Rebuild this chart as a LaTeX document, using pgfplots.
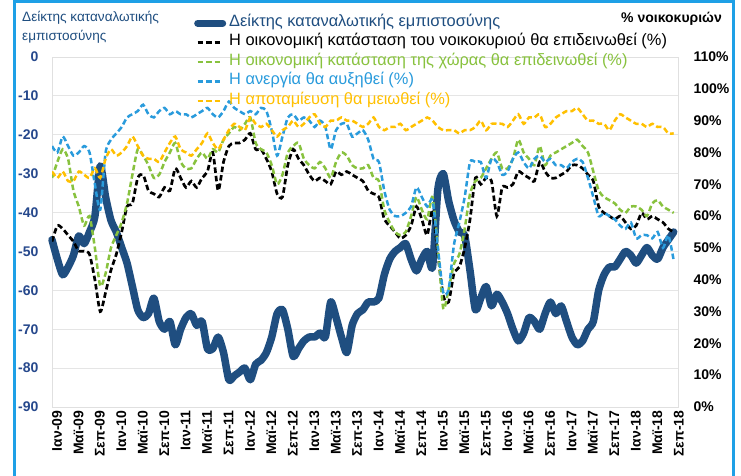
\documentclass[border=0pt]{standalone}
\usepackage{pgfplots}
\pgfplotsset{compat=1.18}
\usepackage{pgfplotstable}
\usepackage{fontspec}
\setmainfont{Liberation Sans}
\definecolor{cci}{RGB}{31,78,128}
\definecolor{ticknavy}{RGB}{38,72,140}
\definecolor{cgreen}{RGB}{136,194,62}
\definecolor{cblue}{RGB}{41,155,220}
\definecolor{corange}{RGB}{255,192,0}
\definecolor{framecol}{RGB}{30,160,230}
\pgfplotstableread{
i cci hh cty une sav
0 -47 52 72 82 74
1 -52 57 77 80 72
2 -56 56 81 85 74
3 -54 54 78 82 71
4 -51 52 68 79 71
5 -46 49 63 80 74
6 -48 49 57 82 73
7 -45 48 60 80 72
8 -41 40 50 70 75
9 -28 30 38 62 72
10 -36 36 42 80 78
11 -42 43 50 84 81
12 -45 48 54 86 79
13 -49 55 58 88 80
14 -53 63 64 91 82
15 -59 64 73 92 85
16 -65 72 81 93 82
17 -67 73 79 95 79
18 -66 68 76 92 78
19 -62 67 72 91 78
20 -68 66 73 93 77
21 -70 69 77 94 80
22 -68 68 80 92 83
23 -74 75 83 93 85
24 -70 72 77 92 81
25 -67 69 75 92 80
26 -66 71 75 91 79
27 -69 69 78 92 81
28 -68 72 80 93 83
29 -75 74 78 94 86
30 -75 80 81 92 83
31 -72 68 80 91 81
32 -76 77 84 93 84
33 -83 82 86 96 87
34 -82 83 88 94 89
35 -81 83 87 93 88
36 -80 84 89 92 87
37 -83 86 91 93 91
38 -79 81 83 92 89
39 -78 81 81 94 88
40 -76 78 80 93 89
41 -72 74 76 87 87
42 -66 67 70 79 85
43 -65 66 73 85 87
44 -70 76 80 91 88
45 -77 81 82 92 90
46 -75 78 83 90 88
47 -73 76 78 91 89
48 -72 73 76 90 91
49 -72 71 75 88 92
50 -71 72 77 90 89
51 -72 71 75 88 88
52 -63 70 72 81 90
53 -67 74 77 87 90
54 -72 73 80 89 91
55 -76 74 79 89 90
56 -69 73 76 85 90
57 -66 72 75 86 89
58 -65 71 75 87 88
59 -63 68 76 84 89
60 -63 67 72 78 91
61 -62 66 71 77 88
62 -56 59 62 68 87
63 -52 57 58 62 88
64 -50 55 55 60 88
65 -49 53 54 60 89
66 -48 54 55 61 87
67 -52 57 60 63 88
68 -55 63 66 69 89
69 -52 59 62 66 90
70 -50 54 59 63 91
71 -54 62 66 65 90
72 -34 48 50 50 88
73 -30 35 31 36 87
74 -37 33 37 37 87
75 -42 42 45 51 87
76 -45 44 48 58 86
77 -46 50 56 66 87
78 -55 59 67 77 87
79 -65 72 71 77 88
80 -62 70 72 77 90
81 -59 72 75 72 87
82 -64 71 78 78 89
83 -61 60 80 77 89
84 -63 69 75 73 89
85 -66 69 75 74 88
86 -70 70 78 78 90
87 -73 74 84 80 92
88 -71 73 80 77 89
89 -67 72 78 75 91
90 -68 71 76 78 91
91 -70 77 82 79 92
92 -66 74 76 77 88
93 -63 72 79 78 89
94 -66 72 80 76 91
95 -64 73 81 76 92
96 -68 74 82 75 93
97 -72 76 83 77 93
98 -74 76 84 78 94
99 -73 75 82 77 92
100 -70 73 80 72 90
101 -68 71 74 66 90
102 -60 63 68 60 89
103 -56 61 66 61 89
104 -54 60 65 60 87
105 -54 59 64 59 90
106 -52 60 62 57 92
107 -50 58 61 56 91
108 -51 56 63 58 90
109 -53 57 63 53 89
110 -51 61 62 54 89
111 -49 59 60 54 88
112 -51 60 64 53 89
113 -52 59 65 55 88
114 -49 58 63 50 88
115 -47 56 62 54 86
116 -45 55 61 46 86
}\datatable
\begin{document}
\begin{tikzpicture}[x=1pt,y=1pt]
\useasboundingbox (0,0) rectangle (741,476);
\fill[white] (0,0) rectangle (741,476);
\begin{axis}[
  at={(52pt,69pt)}, anchor=south west, scale only axis,
  width=626pt, height=350pt,
  xmin=0, xmax=116.8, ymin=-90, ymax=0,
  axis line style={draw=black!12},
  major tick length=0pt,
  ymajorgrids, grid style={draw=black!10, line width=0.8pt},
  ytick={-90,-80,-70,-60,-50,-40,-30,-20,-10,0},
  yticklabels={-90,-80,-70,-60,-50,-40,-30,-20,-10,0},
  yticklabel style={font=\bfseries\fontsize{14}{14}\selectfont, text=ticknavy, xshift=-10pt},
  xtick={0,4,...,116},
  xticklabels={Ιαν-09,Μαϊ-09,Σεπ-09,Ιαν-10,Μαϊ-10,Σεπ-10,Ιαν-11,Μαϊ-11,Σεπ-11,Ιαν-12,Μαϊ-12,Σεπ-12,Ιαν-13,Μαϊ-13,Σεπ-13,Ιαν-14,Μαϊ-14,Σεπ-14,Ιαν-15,Μαϊ-15,Σεπ-15,Ιαν-16,Μαϊ-16,Σεπ-16,Ιαν-17,Μαϊ-17,Σεπ-17,Ιαν-18,Μαϊ-18,Σεπ-18},
  xticklabel style={rotate=90, anchor=east, font=\bfseries\fontsize{14}{14}\selectfont, yshift=-5pt},
  clip=false,
]
\addplot[cci, line width=7.5pt, smooth, tension=0.4, line join=round, line cap=round] table[x=i, y=cci] {\datatable};
\end{axis}
\begin{axis}[
  at={(52pt,69pt)}, anchor=south west, scale only axis,
  width=626pt, height=350pt,
  xmin=0, xmax=116.8, ymin=0, ymax=110,
  axis x line=none, axis y line*=right,
  axis line style={draw=black!12},
  major tick length=0pt,
  ytick={0,10,...,110},
  yticklabels={0\%,10\%,20\%,30\%,40\%,50\%,60\%,70\%,80\%,90\%,100\%,110\%},
  yticklabel style={font=\bfseries\fontsize{14}{14}\selectfont, anchor=west, xshift=12pt},
  legend cell align=left,
  legend style={at={(0.2268,1.117)}, anchor=north west, draw=none, fill=none,
    inner sep=0pt, row sep=5.5pt, column sep=3pt,
    font=\fontsize{16.4}{16.4}\selectfont,
    nodes={inner sep=0pt, text height=10pt, text depth=4pt}},
  legend image code/.code={\draw[#1] (0pt,0pt) -- (25pt,0pt);},
]
\addlegendimage{cci, line width=7pt, line cap=round}
\addlegendentry{\textcolor{cci}{Δείκτης καταναλωτικής εμπιστοσύνης}}
\addplot[black, line width=2.7pt, dash pattern=on 5.5pt off 3pt, smooth, tension=0.4] table[x=i, y=hh] {\datatable};
\addlegendentry{Η οικονομική κατάσταση του νοικοκυριού θα επιδεινωθεί (\%)}
\addplot[cgreen, line width=2.5pt, dash pattern=on 5.5pt off 3pt, smooth, tension=0.4] table[x=i, y=cty] {\datatable};
\addlegendentry{\textcolor{cgreen}{Η οικονομική κατάσταση της χώρας θα επιδεινωθεί (\%)}}
\addplot[cblue, line width=2.5pt, dash pattern=on 5.5pt off 3pt, smooth, tension=0.4] table[x=i, y=une] {\datatable};
\addlegendentry{\textcolor{cblue}{Η ανεργία θα αυξηθεί (\%)}}
\addplot[corange, line width=2.5pt, dash pattern=on 5.5pt off 3pt, smooth, tension=0.4] table[x=i, y=sav] {\datatable};
\addlegendentry{\textcolor{corange}{Η αποταμίευση θα μειωθεί (\%)}}
\end{axis}
\node[anchor=north west, align=left, text=cci, font=\fontsize{13.6}{19}\selectfont, inner sep=0pt] at (22,465) {Δείκτης καταναλωτικής\\εμπιστοσύνης};
\node[anchor=north east, font=\bfseries\fontsize{14}{15}\selectfont, inner sep=0pt] at (722,464) {\% νοικοκυριών};
\draw[framecol, line width=3pt] (14.5,-10) -- (14.5,474.5) -- (733.5,474.5) -- (733.5,-10);
\end{tikzpicture}
\end{document}
